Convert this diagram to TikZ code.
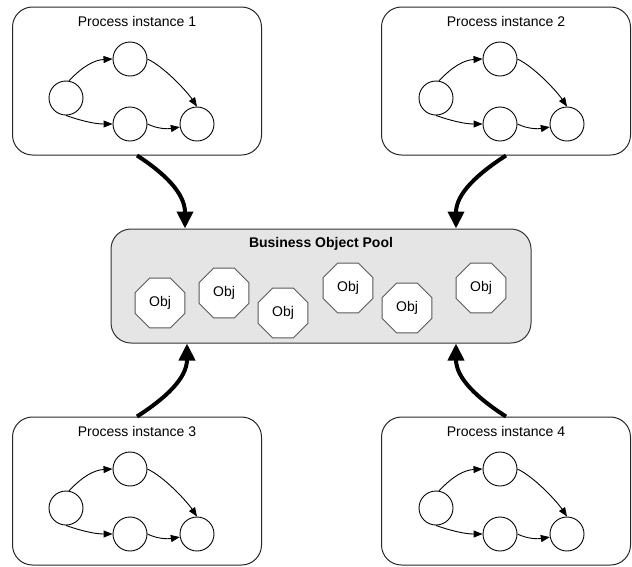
\documentclass[tikz,border=0pt]{standalone}
\usepackage{fontspec}
\setmainfont{Liberation Sans}
\usetikzlibrary{arrows.meta,shapes.geometric}
\newcommand{\procgraph}[3]{%
  \node[state] (#1a) at (#2+54,#3+91) {};
  \node[state] (#1b) at (#2+118,#3+52) {};
  \node[state] (#1c) at (#2+118,#3+117) {};
  \node[state] (#1d) at (#2+185,#3+117) {};
  \draw[flow] (#1a.80) .. controls +(14,-15) and +(-18,1) .. (#1b.west);
  \draw[flow] (#1a.south) .. controls +(14,5) and +(-18,0) .. (#1c.west);
  \draw[flow] (#1b.east) .. controls +(17,8) and +(-10,-15) .. (#1d.north);
  \draw[flow] (#1c.east) .. controls +(10,5) and +(-12,2) .. (#1d.190);
}
\begin{document}
\begin{tikzpicture}[x=1pt,y=-1pt,
  procbox/.style={draw=black!85, line width=1pt, rounded corners=20pt, minimum width=249pt, minimum height=148pt, inner sep=0pt},
  poolbox/.style={draw=black!80, fill=black!10, line width=1pt, rounded corners=20pt, minimum width=420pt, minimum height=114pt, inner sep=0pt},
  titletext/.style={font=\fontsize{14}{16}\selectfont},
  pooltitle/.style={font=\fontsize{14}{16}\selectfont\bfseries},
  obj/.style={regular polygon, regular polygon sides=8, draw=black!65, fill=white, line width=1pt, minimum size=54pt, inner sep=0pt, font=\fontsize{14}{16}\selectfont},
  state/.style={circle, draw=black, line width=0.9pt, minimum size=34pt, inner sep=0pt, fill=white},
  flow/.style={line width=0.9pt, -{Triangle[length=9pt,width=7pt]}},
  bigflow/.style={line width=4pt, -{Triangle[length=17pt,width=16pt]}},
]
\useasboundingbox (0,0) rectangle (632,566);
% boxes
\node[procbox] (p1) at (137,81) {};
\node[procbox] (p2) at (506,81) {};
\node[procbox] (p3) at (137,491) {};
\node[procbox] (p4) at (506,491) {};
\node[poolbox] (pool) at (321,286) {};
% titles
\node[titletext] (t1) at ([yshift=-15pt]p1.north) {Process instance 1};
\node[titletext] (t2) at ([yshift=-15pt]p2.north) {Process instance 2};
\node[titletext] (t3) at ([yshift=-15pt]p3.north) {Process instance 3};
\node[titletext] (t4) at ([yshift=-15pt]p4.north) {Process instance 4};
\node[pooltitle] (tp) at ([yshift=-15pt]pool.north) {Business Object Pool};
% graphs
\procgraph{g1}{12}{7}
\procgraph{g2}{382}{7}
\procgraph{g3}{12}{417}
\procgraph{g4}{382}{417}
% objects
\node[obj] (o1) at (160,303) {Obj};
\node[obj] (o2) at (224,293) {Obj};
\node[obj] (o3) at (283,313) {Obj};
\node[obj] (o4) at (348,288) {Obj};
\node[obj] (o5) at (407,308) {Obj};
\node[obj] (o6) at (481,288) {Obj};
% big arrows
\draw[bigflow] (p1.south) .. controls +(28,18) and +(0,-35) .. ([xshift=-136pt]pool.north);
\draw[bigflow] (p2.south) .. controls +(-28,18) and +(0,-35) .. ([xshift=135pt]pool.north);
\draw[bigflow] (p3.north) .. controls +(28,-18) and +(0,35) .. ([xshift=-134pt]pool.south);
\draw[bigflow] (p4.north) .. controls +(-28,-18) and +(0,35) .. ([xshift=135pt]pool.south);
\end{tikzpicture}
\end{document}
